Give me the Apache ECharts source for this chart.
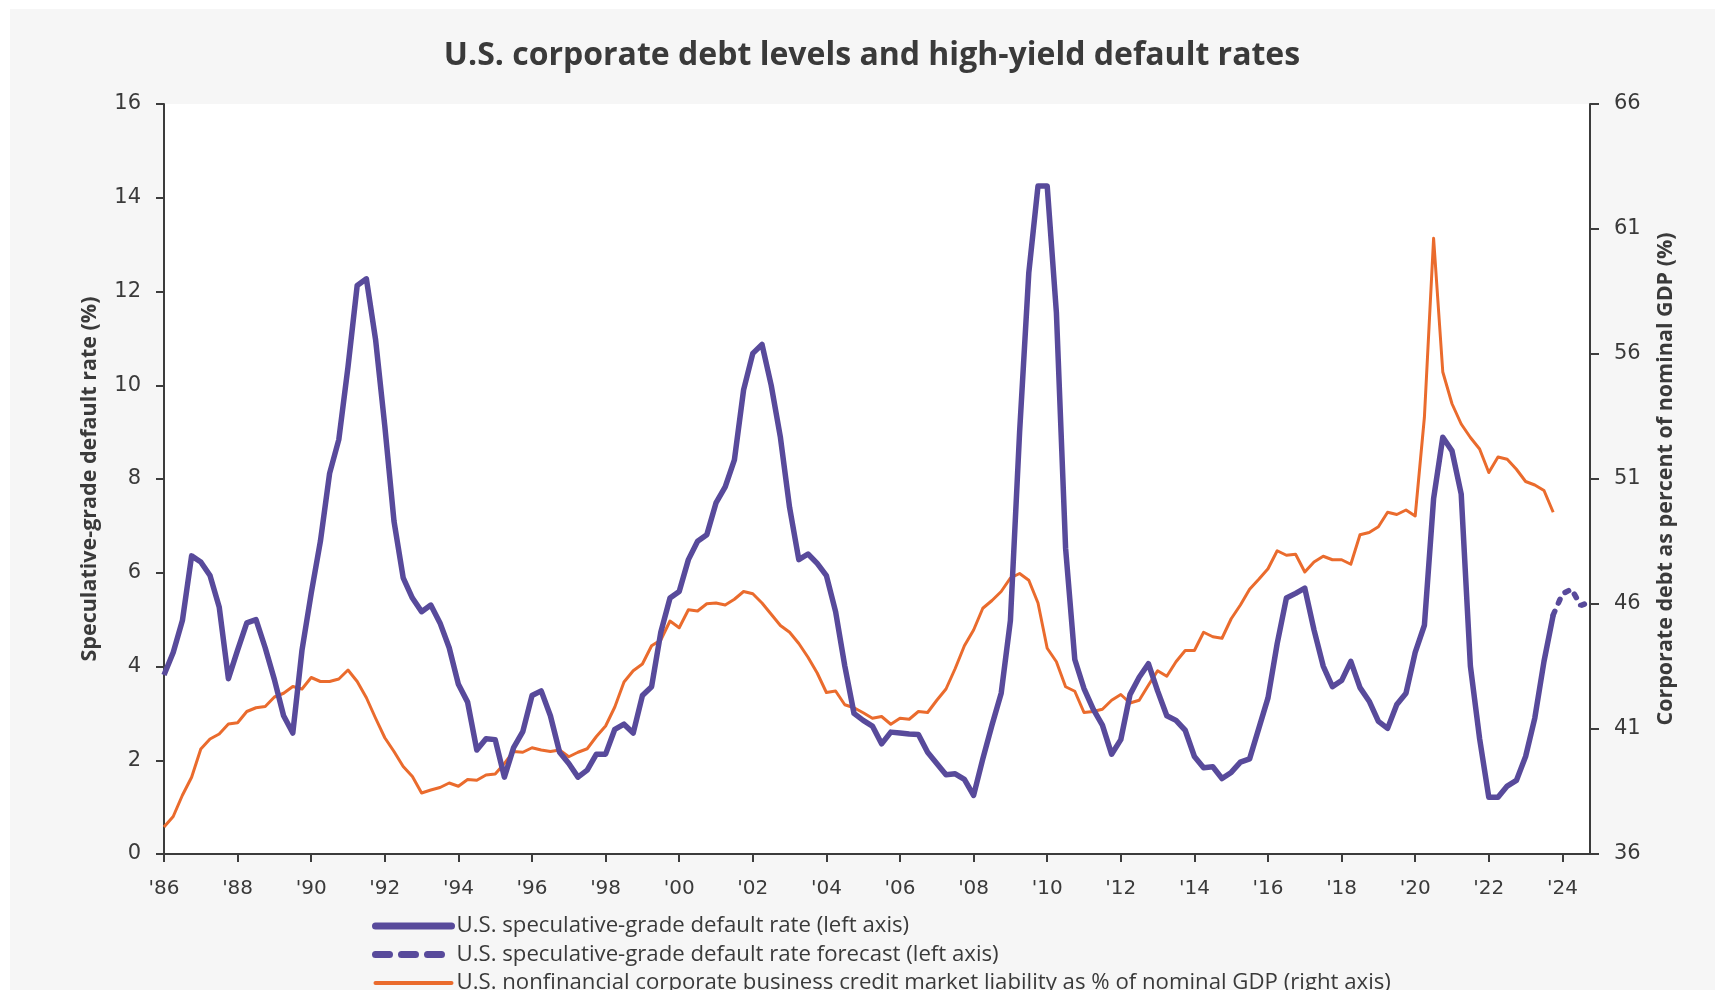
<!DOCTYPE html>
<html><head><meta charset="utf-8">
<script src="https://cdn.jsdelivr.net/npm/echarts@6/dist/echarts.min.js"></script>
<style>
html,body{margin:0;padding:0;background:#fff;width:1715px;height:990px;overflow:hidden}
#chart{position:absolute;left:10px;top:9px;width:1705px;height:981px}
</style>
</head><body><div id="chart"></div>
<script>
// Quarterly categories 1986Q1 .. 2024Q4
const firstYear = 1986, lastYear = 2024;
const quarters = [];
for (let y = firstYear; y <= lastYear; y++) for (let q = 1; q <= 4; q++) quarters.push(y + 'Q' + q);

// U.S. speculative-grade default rate (%), 1986Q1 .. 2023Q4
const defaultRate = [
  3.82, 4.30, 4.98, 6.36, 6.23, 5.94, 5.27, 3.74, 4.35, 4.93, 5.00, 4.40, 3.72, 2.95, 2.58, 4.35,
  5.56, 6.67, 8.12, 8.84, 10.39, 12.13, 12.27, 10.97, 9.13, 7.10, 5.89, 5.46, 5.17, 5.31, 4.93, 4.40,
  3.62, 3.24, 2.22, 2.46, 2.44, 1.64, 2.27, 2.61, 3.38, 3.48, 2.95, 2.17, 1.93, 1.64, 1.79, 2.13,
  2.13, 2.66, 2.77, 2.58, 3.38, 3.57, 4.73, 5.46, 5.60, 6.28, 6.67, 6.81, 7.49, 7.83, 8.41, 9.90,
  10.68, 10.87, 10.00, 8.89, 7.39, 6.28, 6.40, 6.20, 5.94, 5.17, 4.01, 3.00, 2.85, 2.73, 2.35, 2.60,
  2.58, 2.56, 2.55, 2.17, 1.93, 1.69, 1.71, 1.59, 1.25, 2.03, 2.75, 3.43, 4.98, 9.0, 12.4, 14.25,
  14.25, 11.55, 6.52, 4.15, 3.53, 3.09, 2.75, 2.13, 2.44, 3.40, 3.77, 4.06, 3.48, 2.95, 2.85, 2.64,
  2.08, 1.84, 1.86, 1.61, 1.74, 1.96, 2.03, 2.68, 3.33, 4.49, 5.46, 5.56, 5.67, 4.78, 4.01, 3.57,
  3.70, 4.11, 3.55, 3.26, 2.83, 2.68, 3.19, 3.43, 4.30, 4.88, 7.58, 8.89, 8.60, 7.68, 4.01, 2.46,
  1.21, 1.21, 1.45, 1.57, 2.08, 2.90, 4.11, 5.10
];

// Forecast (%), starting at 2023Q4
const forecastStart = '2023Q4';
const defaultForecast = [5.10, 5.55, 5.65, 5.30, 5.38];

// Nonfinancial corporate credit market liability as % of nominal GDP, 1986Q1 .. 2023Q4
const debtToGdp = [
  37.08, 37.5, 38.35, 39.07, 40.2, 40.6, 40.8, 41.2, 41.25, 41.7, 41.85, 41.9, 42.28, 42.43, 42.7, 42.6,
  43.06, 42.9, 42.9, 43.0, 43.36, 42.9, 42.25, 41.43, 40.65, 40.1, 39.5, 39.1, 38.44, 38.56, 38.66, 38.84,
  38.71, 38.98, 38.95, 39.16, 39.2, 39.62, 40.1, 40.07, 40.25, 40.16, 40.1, 40.16, 39.89, 40.07, 40.21, 40.7,
  41.12, 41.88, 42.88, 43.33, 43.6, 44.33, 44.56, 45.32, 45.05, 45.77, 45.72, 46.01, 46.04, 45.96, 46.19, 46.5,
  46.41, 46.04, 45.59, 45.14, 44.87, 44.42, 43.87, 43.24, 42.46, 42.52, 41.97, 41.85, 41.65, 41.43, 41.5, 41.19,
  41.43, 41.39, 41.7, 41.66, 42.15, 42.6, 43.42, 44.33, 44.96, 45.83, 46.14, 46.5, 47.04, 47.22, 46.95, 46.04,
  44.23, 43.69, 42.69, 42.51, 41.66, 41.7, 41.79, 42.15, 42.38, 42.04, 42.15, 42.75, 43.33, 43.11, 43.69, 44.14,
  44.14, 44.87, 44.69, 44.63, 45.41, 45.96, 46.59, 46.99, 47.41, 48.13, 47.95, 47.99, 47.28, 47.68, 47.91, 47.77,
  47.77, 47.59, 48.77, 48.86, 49.09, 49.67, 49.58, 49.76, 49.52, 53.47, 60.63, 55.28, 54.01, 53.2, 52.66, 52.2,
  51.26, 51.88, 51.79, 51.39, 50.9, 50.76, 50.54, 49.67
];

const leftTicks = {min: 0, max: 16, interval: 2};
const rightTicks = {min: 36, max: 66, interval: 5};

const names = [
  'U.S. speculative-grade default rate (left axis)',
  'U.S. speculative-grade default rate forecast (left axis)',
  'U.S. nonfinancial corporate business credit market liability as % of nominal GDP (right axis)'
];

const PURPLE = '#584a9b', ORANGE = '#ea6b2d', INK = '#3a3a3a', AXIS = '#3c3c3c';

function pad(arr, startIdx) {
  const out = new Array(quarters.length).fill(null);
  arr.forEach((v, k) => { out[startIdx + k] = v; });
  return out;
}
const fIdx = quarters.indexOf(forecastStart);
const noSymbol = {color: 'rgba(0,0,0,0)', borderWidth: 0, opacity: 0};

const chart = echarts.init(document.getElementById('chart'), null, {renderer: 'canvas'});
const tickEvery = (i) => i % 8 === 0;
chart.setOption({
  backgroundColor: '#f6f6f6',
  animation: false,
  title: {
    text: 'U.S. corporate debt levels and high-yield default rates',
    left: 862, top: 31, textAlign: 'center', padding: 0,
    textStyle: {fontFamily: 'Open Sans', fontWeight: 'bold', fontSize: 32, color: INK}
  },
  legend: {
    orient: 'vertical', left: 362, top: 906, height: 100, padding: 0,
    itemWidth: 76, itemHeight: 14, itemGap: 6.5,
    textStyle: {fontFamily: 'Open Sans', fontSize: 22.2, lineHeight: 20, color: INK},
    data: [
      {name: names[0], itemStyle: noSymbol, lineStyle: {width: 7, cap: 'round', color: PURPLE}},
      {name: names[1], itemStyle: noSymbol, lineStyle: {width: 7, cap: 'round', type: [14, 12], color: PURPLE}},
      {name: names[2], itemStyle: noSymbol, lineStyle: {width: 4, cap: 'round', color: ORANGE}}
    ]
  },
  grid: {left: 154, top: 95, right: 125, bottom: 136, show: true, backgroundColor: '#ffffff', borderWidth: 0},
  xAxis: {
    type: 'category', data: quarters, boundaryGap: false,
    axisLine: {lineStyle: {color: AXIS, width: 2}},
    axisTick: {length: 8, interval: (i) => tickEvery(i), lineStyle: {color: AXIS, width: 2}},
    axisLabel: {interval: (i) => tickEvery(i), margin: 25, fontFamily: 'DejaVu Sans', fontSize: 20, color: INK,
      formatter: (v) => "'" + v.slice(2, 4)}
  },
  yAxis: [
    {
      type: 'value', position: 'left', min: leftTicks.min, max: leftTicks.max, interval: leftTicks.interval,
      name: 'Speculative-grade default rate (%)', nameLocation: 'middle', nameRotate: 90, nameGap: 63,
      nameTextStyle: {fontFamily: 'Open Sans', fontWeight: 'bold', fontSize: 21.5, color: INK},
      axisLine: {show: true, lineStyle: {color: AXIS, width: 2}},
      axisTick: {show: true, length: 8, lineStyle: {color: AXIS, width: 2}},
      axisLabel: {margin: 23, fontFamily: 'DejaVu Sans', fontSize: 21, color: INK},
      splitLine: {show: false}
    },
    {
      type: 'value', position: 'right', min: rightTicks.min, max: rightTicks.max, interval: rightTicks.interval,
      name: 'Corporate debt as percent of nominal GDP (%)', nameLocation: 'middle', nameRotate: 90, nameGap: 65,
      nameTextStyle: {fontFamily: 'Open Sans', fontWeight: 'bold', fontSize: 21.5, color: INK},
      axisLine: {show: true, lineStyle: {color: AXIS, width: 2}},
      axisTick: {show: true, length: 9, lineStyle: {color: AXIS, width: 2}},
      axisLabel: {margin: 24, fontFamily: 'DejaVu Sans', fontSize: 21, color: INK},
      splitLine: {show: false}
    }
  ],
  series: [
    {
      name: names[2], type: 'line', yAxisIndex: 1, data: pad(debtToGdp, 0),
      symbol: 'none', lineStyle: {color: ORANGE, width: 3, join: 'round'}, itemStyle: {color: ORANGE}, z: 2
    },
    {
      name: names[0], type: 'line', yAxisIndex: 0, data: pad(defaultRate, 0),
      symbol: 'none', lineStyle: {color: PURPLE, width: 5.5, join: 'round'}, itemStyle: {color: PURPLE}, z: 3
    },
    {
      name: names[1], type: 'line', yAxisIndex: 0, data: pad(defaultForecast, fIdx),
      symbol: 'none', lineStyle: {color: PURPLE, width: 5.5, type: [4, 9], cap: 'round'}, itemStyle: {color: PURPLE}, z: 3
    }
  ]
});
</script>
</body></html>
